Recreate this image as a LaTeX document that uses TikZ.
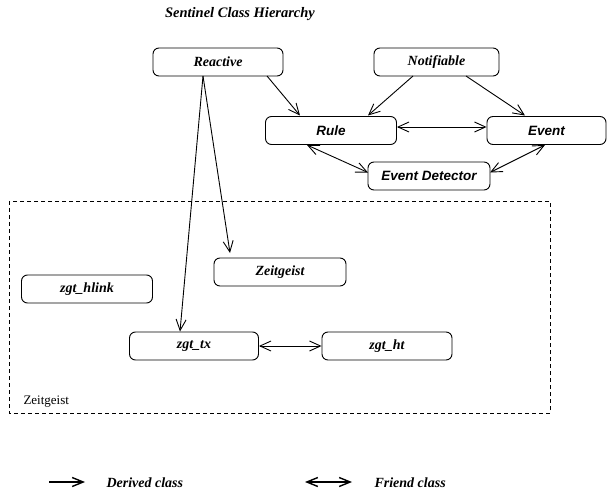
\documentclass[tikz,border=0pt]{standalone}
\usepackage{fontspec}
\setmainfont{Liberation Serif}
\newfontfamily\helv{Liberation Sans}
\usetikzlibrary{arrows.meta}
\begin{document}
\begin{tikzpicture}[x=1pt,y=-1pt,
  cls/.style={draw,rounded corners=6pt,line width=0.9pt,minimum height=28pt,inner sep=0pt,font=\fontsize{14}{16}\selectfont\bfseries\itshape},
  hcls/.style={cls,font=\fontsize{13.5}{16}\selectfont\helv\bfseries\itshape},
  der/.style={line width=0.9pt,-{Straight Barb[length=11pt,width=10pt]}},
  fri/.style={line width=0.9pt,{Straight Barb[length=11pt,width=10pt]}-{Straight Barb[length=11pt,width=10pt]}}]
\useasboundingbox (0,0) rectangle (611,492);
\node[font=\fontsize{14.5}{16}\selectfont\bfseries\itshape] (title) at (240,14) {Sentinel Class Hierarchy};
\node[cls,minimum width=130pt] (reactive) at (218,62) {Reactive};
\node[cls,minimum width=125pt] (notif) at (436.5,62) {Notifiable};
\node[hcls,minimum width=131pt] (rule) at (331,130.5) {Rule};
\node[hcls,minimum width=119pt] (event) at (546.5,130.5) {Event};
\node[hcls,minimum width=122pt] (ed) at (429,176) {Event Detector};
\draw[line width=0.9pt,dash pattern=on 4pt off 3pt] (9,201) rectangle (550,413);
\node[anchor=west,font=\fontsize{13}{15}\selectfont] (zlabel) at (20,402) {Zeitgeist};
\node[cls,minimum width=132pt] (zeit) at (280,272) {Zeitgeist};
\node[cls,minimum width=131pt] (hlink) at (87,289) {zgt\_hlink};
\node[cls,minimum width=129pt] (tx) at (194,346) {zgt\_tx};
\node[cls,minimum width=130pt] (ht) at (387,346) {zgt\_ht};
\coordinate (r1) at (203,76);
\coordinate (r3) at (267,76);
\coordinate (n1) at (413,76);
\coordinate (n2) at (466,76);
\draw[der] (r3) -- (300,115.5);
\draw[der] (n1) -- (368,115.5);
\draw[der] (n2) -- (525,115.5);
\draw[der] (r1) -- (180,331.5);
\draw[der] (r1) -- (230,253);
\draw[fri] (rule.east |- 0,127) -- (event.west |- 0,127);
\draw[fri] (307,145) -- (368,172.5);
\draw[fri] (545,145) -- (490,172.5);
\draw[fri] (tx.east) -- (ht.west);
\coordinate (l1) at (49,482);
\coordinate (l2) at (85,482);
\coordinate (l3) at (305,482);
\coordinate (l4) at (352,482);
\draw[line width=1.4pt,-{Straight Barb[length=11pt,width=9pt,line width=1.4pt]}] (l1) -- (l2);
\draw[line width=1.4pt,{Straight Barb[length=11pt,width=9pt,line width=1.4pt]}-{Straight Barb[length=11pt,width=9pt,line width=1.4pt]}] (l3) -- (l4);
\node[anchor=west,font=\fontsize{14}{16}\selectfont\bfseries\itshape] (dlab) at (103,483) {Derived class};
\node[anchor=west,font=\fontsize{14}{16}\selectfont\bfseries\itshape] (flab) at (371,483) {Friend class};
\end{tikzpicture}
\end{document}
